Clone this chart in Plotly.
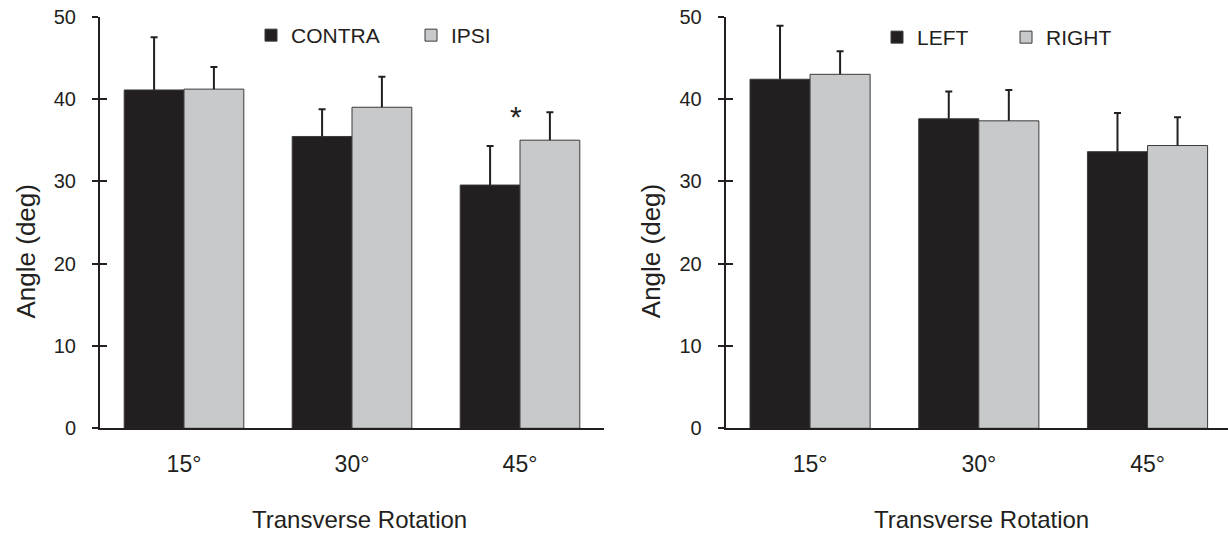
import plotly.graph_objects as go

# ---- data ----
categories = ["15°", "30°", "45°"]

contra_mean = [41.1, 35.45, 29.55]
contra_sd = [6.4, 3.3, 4.75]
ipsi_mean = [41.2, 39.0, 35.0]
ipsi_sd = [2.7, 3.7, 3.4]

left_mean = [42.4, 37.6, 33.6]
left_sd = [6.5, 3.3, 4.7]
right_mean = [43.0, 37.35, 34.35]
right_sd = [2.8, 3.75, 3.45]

y_ticks = [0, 10, 20, 30, 40, 50]
sig_category = "45°"
sig_y = 38.3

# ---- style ----
W, H = 1228, 535
INK = "#231f20"
DARK = "#231f20"
GREY = "#c8c9cb"
FONT = "Liberation Sans, Arial, Helvetica, sans-serif"


def px_x(p):
    return p / W


def px_y(p):
    return 1 - p / H


def bar_pair(name, x, y, sd, color, xa, ya, legend, group):
    main = go.Bar(
        name=name, x=x, y=y, offsetgroup=group,
        xaxis=xa, yaxis=ya, legend=legend,
        marker=dict(color=color, line=dict(color="#3a3a3a", width=1)),
        error_y=dict(type="data", symmetric=False, array=sd,
                     arrayminus=[0] * len(sd), color=INK,
                     thickness=2, width=0),
    )
    # transparent companion bar whose zero-size error bar draws the cap
    tops = [m + s for m, s in zip(y, sd)]
    cap = go.Bar(
        name=name + " cap", x=x, y=tops, offsetgroup=group,
        xaxis=xa, yaxis=ya, showlegend=False, hoverinfo="skip",
        marker=dict(color="rgba(0,0,0,0)", line=dict(width=0)),
        error_y=dict(type="data", symmetric=True, array=[0] * len(sd),
                     color=INK, thickness=2, width=3.5),
    )
    return [main, cap]


fig = go.Figure()
for tr in (bar_pair("CONTRA", categories, contra_mean, contra_sd, DARK, "x", "y", "legend", "a")
           + bar_pair("IPSI", categories, ipsi_mean, ipsi_sd, GREY, "x", "y", "legend", "b")
           + bar_pair("LEFT", categories, left_mean, left_sd, DARK, "x2", "y2", "legend2", "c")
           + bar_pair("RIGHT", categories, right_mean, right_sd, GREY, "x2", "y2", "legend2", "d")):
    fig.add_trace(tr)

ydom = [px_y(428.3), px_y(16.7)]
xdom1 = [px_x(100), px_x(604)]
xdom2 = [px_x(725.7), 1.0]

xcommon = dict(
    showline=True, linewidth=2, linecolor=INK, ticks="",
    showgrid=False, zeroline=False,
    tickfont=dict(size=23, color=INK, family=FONT),
    ticklabelstandoff=14, type="category",
)
ycommon = dict(
    range=[0, 50], tickvals=y_ticks, showline=True, linewidth=2, linecolor=INK,
    ticks="outside", ticklen=6, tickwidth=2, tickcolor=INK,
    showgrid=False, zeroline=False, domain=ydom,
    tickfont=dict(size=20, color=INK, family=FONT),
    ticklabelstandoff=12,
)
yinner = dict(
    range=[0, 50], tickvals=y_ticks, showline=False,
    ticks="inside", ticklen=7, tickwidth=2, tickcolor=INK,
    showgrid=False, zeroline=False, showticklabels=False,
)

legcommon = dict(
    orientation="h", font=dict(size=21, color=INK, family=FONT),
    bgcolor="rgba(0,0,0,0)", xanchor="left", yanchor="middle",
    entrywidthmode="pixels", itemclick=False, itemdoubleclick=False,
    tracegroupgap=0, traceorder="normal",
)

fig.update_layout(
    width=W, height=H,
    margin=dict(l=0, r=0, t=0, b=0, autoexpand=False),
    paper_bgcolor="white", plot_bgcolor="white",
    font=dict(family=FONT, color=INK),
    barmode="group", bargap=0.288, bargroupgap=0,
    xaxis=dict(domain=xdom1, range=[-0.5, 2.5], anchor="y", **xcommon),
    yaxis=dict(anchor="x", **ycommon),
    xaxis2=dict(domain=xdom2, range=[-0.5, 2.477], anchor="y2", **xcommon),
    yaxis2=dict(anchor="x2", **ycommon),
    yaxis3=dict(overlaying="y", anchor="x", **yinner),
    yaxis4=dict(overlaying="y2", anchor="x2", **yinner),
    legend=dict(x=px_x(251), y=px_y(35.5), entrywidth=115, **legcommon),
    legend2=dict(x=px_x(877), y=px_y(37.5), entrywidth=84, **legcommon),
    showlegend=True,
)

# invisible traces so the inner-tick axes render
fig.add_trace(go.Scatter(x=[categories[0]], y=[0], xaxis="x", yaxis="y3",
                         mode="markers", marker=dict(opacity=0), showlegend=False,
                         hoverinfo="skip"))
fig.add_trace(go.Scatter(x=[categories[0]], y=[0], xaxis="x2", yaxis="y4",
                         mode="markers", marker=dict(opacity=0), showlegend=False,
                         hoverinfo="skip"))

# axis titles
for xc in (px_x(25), px_x(650.7)):
    fig.add_annotation(text="Angle (deg)", xref="paper", yref="paper",
                       x=xc, y=px_y(251.5), textangle=-90, showarrow=False,
                       xanchor="center", yanchor="middle",
                       font=dict(size=26, color=INK, family=FONT))
for xc in (px_x(359), px_x(981)):
    fig.add_annotation(text="Transverse Rotation", xref="paper", yref="paper",
                       x=xc, y=px_y(519), showarrow=False,
                       xanchor="center", yanchor="middle",
                       font=dict(size=24, color=INK, family=FONT))

# significance marker
fig.add_annotation(text="*", x=sig_category, y=sig_y, xref="x", yref="y",
                   xshift=-4.3, yshift=-3, showarrow=False, xanchor="center",
                   yanchor="middle", font=dict(size=30, color=INK, family=FONT))

fig.write_html(
    "out.html",
    config={"displayModeBar": False},
    post_script="document.body.style.margin='0';document.body.style.padding='0';",
)
